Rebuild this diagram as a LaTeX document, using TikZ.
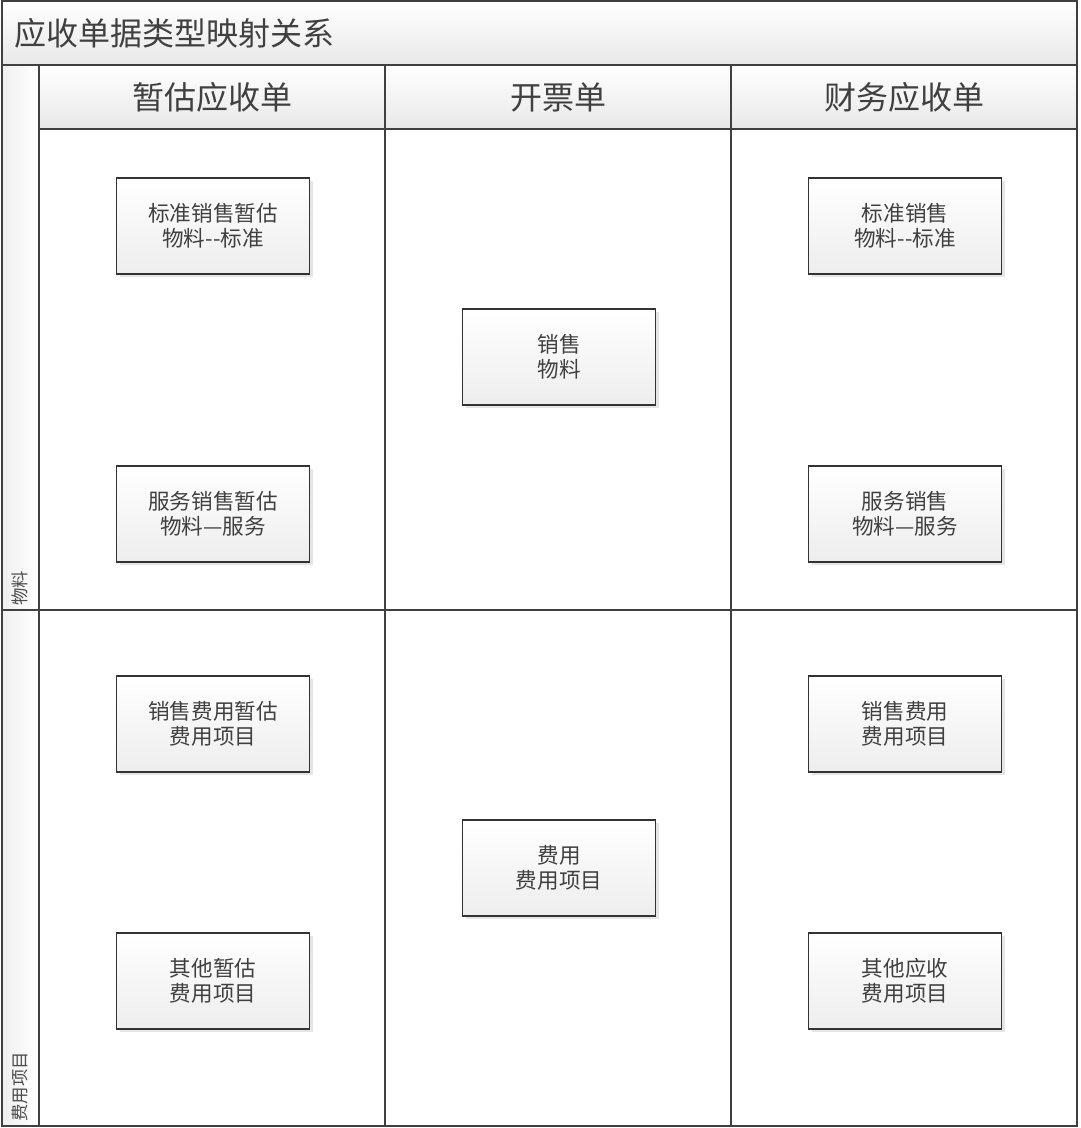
\documentclass[tikz,border=0pt]{standalone}
\usepackage{fontspec}
\setmainfont{Noto Sans CJK SC}
\usepackage{tikz}
\usetikzlibrary{shadows, positioning}

\begin{document}
\begin{tikzpicture}[x=0.5pt, y=-0.5pt]
\tikzset{lane frame/.style={draw=black!75, line width=0.8pt},
  head cell/.style={draw=black!75, line width=0.8pt,
    top color=white, bottom color=black!9,
    anchor=north west, inner sep=0pt, outer sep=0pt,
    minimum height=32pt, text=black!75,
    font=\fontsize{16}{18}\selectfont
  },
  body cell/.style={draw=black!75, line width=0.8pt, fill=white,
    anchor=north west, inner sep=0pt, outer sep=0pt,
    minimum width=173pt
  },
  lane label/.style={rotate=90, anchor=west, inner sep=0pt,
    text=black!70, font=\fontsize{8.7}{10}\selectfont
  },
  map box/.style={draw=black!80, line width=0.7pt,
    top color=white, bottom color=black!7,
    minimum width=96.5pt, minimum height=48pt,
    align=center, text=black!75,
    font=\fontsize{10.8}{12.5}\selectfont,
    drop shadow={shadow xshift=1.5pt, shadow yshift=-1.5pt, opacity=0.2}
  }
}
\useasboundingbox (0,0) rectangle (1080,1128);

% title bar and lane strip
\node[head cell, minimum width=537.5pt] (title) at (2,1) {};
\node[anchor=west, inner sep=0pt, text=black!75, font=\fontsize{16}{18}\selectfont] (title text) at (14,33) {应收单据类型映射关系};
\node[head cell, minimum width=18.5pt, minimum height=530.5pt, top color=black!6, bottom color=white, shading angle=90] (strip) at (2,65) {};

% column headers
\node[head cell, minimum width=173pt] (col est) at (39,65) {暂估应收单};
\node[head cell, minimum width=173pt] (col inv) at (385,65) {开票单};
\node[head cell, minimum width=173pt] (col fin) at (731,65) {财务应收单};

% lanes
\node[body cell, minimum height=240.5pt] (est mat) at (39,129) {};
\node[body cell, minimum height=240.5pt] (inv mat) at (385,129) {};
\node[body cell, minimum height=240.5pt] (fin mat) at (731,129) {};
\node[body cell, minimum height=258pt] (est fee) at (39,610) {};
\node[body cell, minimum height=258pt] (inv fee) at (385,610) {};
\node[body cell, minimum height=258pt] (fin fee) at (731,610) {};
\draw[lane frame] (strip.west |- est fee.north) -- (est fee.north west);

\node[lane label] (lane mat) at (20,606) {物料};
\node[lane label] (lane fee) at (20,1122) {费用项目};

% mapping boxes
\node[map box] (est std) at (213,226) {标准销售暂估\\物料-{}-标准};
\node[map box] (est svc) at (213,514) {服务销售暂估\\物料—服务};
\node[map box] (est sfee) at (213,724) {销售费用暂估\\费用项目};
\node[map box] (est ofee) at (213,981) {其他暂估\\费用项目};

\node[map box] (inv sale) at (559,357) {销售\\物料};
\node[map box] (inv fee) at (559,868) {费用\\费用项目};

\node[map box] (fin std) at (905,226) {标准销售\\物料-{}-标准};
\node[map box] (fin svc) at (905,514) {服务销售\\物料—服务};
\node[map box] (fin sfee) at (905,724) {销售费用\\费用项目};
\node[map box] (fin ofee) at (905,981) {其他应收\\费用项目};

\draw[lane frame] (2,1) rectangle (1077,1126);
\end{tikzpicture}
\end{document}
